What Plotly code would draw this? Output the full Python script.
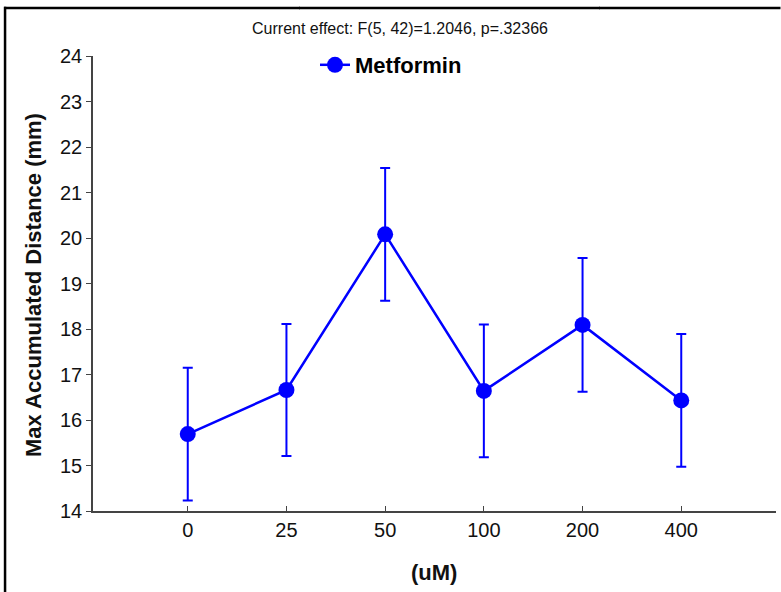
import plotly.graph_objects as go

categories = ["0", "25", "50", "100", "200", "400"]
means = [15.69, 16.66, 20.08, 16.64, 18.09, 16.43]
errors = [1.46, 1.45, 1.46, 1.46, 1.47, 1.46]
y_ticks = [14, 15, 16, 17, 18, 19, 20, 21, 22, 23, 24]

W, H = 781, 592
ML, MR, MT, MB = 93, 5, 56, 81
PW, PH = W - ML - MR, H - MT - MB

def px_x(px):
    return (px - ML) / PW

def px_y(py):
    return 1 - (py - MT) / PH

fig = go.Figure()
fig.add_trace(go.Scatter(
    x=list(range(len(categories))), y=means,
    mode="lines+markers", name="<b>Metformin</b>",
    line=dict(color="#0000ff", width=2.5),
    marker=dict(color="#0000ff", size=16),
    error_y=dict(type="data", array=errors, visible=True,
                 color="#0000ff", thickness=2, width=5),
))

border = [
    dict(type="line", xref="paper", yref="paper",
         x0=px_x(a), x1=px_x(b), y0=px_y(8), y1=px_y(8),
         line=dict(color="black", width=2.5), layer="above")
    for a, b in [(4, 300), (299, 600), (599, 780.5)]
]
border.append(dict(type="rect", xref="paper", yref="paper",
                   x0=px_x(3.8), x1=px_x(6.3), y0=px_y(600), y1=px_y(6.8),
                   line=dict(width=0), fillcolor="black", layer="above"))

fig.update_layout(
    width=W, height=H,
    margin=dict(l=ML, r=MR, t=MT, b=MB),
    paper_bgcolor="white", plot_bgcolor="white",
    font=dict(family="Arial, Liberation Sans", color="black"),
    title=dict(text="Current effect: F(5, 42)=1.2046, p=.32366",
               x=400 / W, xanchor="center", y=1 - 28 / H, yanchor="middle",
               font=dict(size=16, color="#111")),
    showlegend=True,
    legend=dict(x=px_x(315), y=px_y(65), xanchor="left", yanchor="middle",
                bgcolor="rgba(0,0,0,0)", font=dict(size=22, color="black"),
                itemwidth=30),
    xaxis=dict(range=[-0.96, 5.96], tickmode="array",
               tickvals=list(range(len(categories))), ticktext=categories,
               showline=True, linecolor="#444", linewidth=1.5,
               ticks="inside", ticklen=5, tickcolor="#444",
               showgrid=False, zeroline=False,
               tickfont=dict(size=20, color="#111")),
    yaxis=dict(range=[14, 24], tickmode="array", tickvals=y_ticks,
               showline=True, linecolor="#444", linewidth=1.5,
               ticks="outside", ticklen=5, tickcolor="#444",
               showgrid=False, zeroline=False,
               tickfont=dict(size=20, color="#111")),
    annotations=[
        dict(text="<b>Max Accumulated Distance (mm)</b>", textangle=-90,
             xref="paper", yref="paper", x=px_x(33), y=px_y(285),
             xanchor="center", yanchor="middle", showarrow=False,
             font=dict(size=22, color="#111")),
        dict(text="<b>(uM)</b>",
             xref="paper", yref="paper", x=px_x(434), y=px_y(572),
             xanchor="center", yanchor="middle", showarrow=False,
             font=dict(size=22, color="#111")),
    ],
    shapes=border,
)

fig.write_html("out.html", config={"displayModeBar": False},
               post_script="document.body.style.margin='0';document.body.style.overflow='hidden';")
